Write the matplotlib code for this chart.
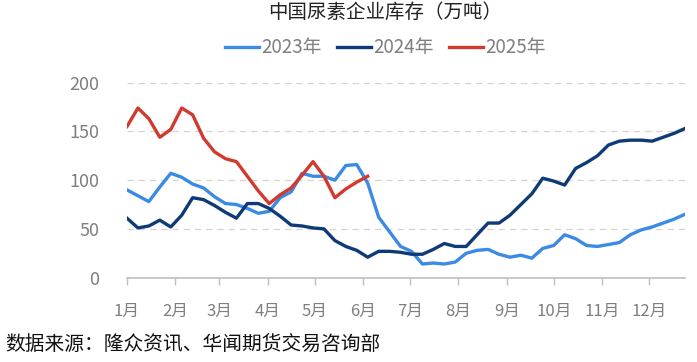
import numpy as np
from matplotlib import pyplot as plt

plt.rcParams['font.family'] = ['Noto Sans CJK SC', 'DejaVu Sans']

# 周度库存（万吨），每年第 1 周起
y2023 = [90, 84, 78, 93, 107, 103, 96, 92, 83, 76, 75, 71, 66, 68, 82, 88,
         107, 104, 104, 100, 115, 116, 97, 62, 47, 32, 27, 14, 15, 14, 16, 25,
         28, 29, 24, 21, 23, 20, 30, 33, 44, 40, 33, 32, 34, 36, 44, 49,
         52, 56, 60, 65]
y2024 = [61, 51, 53, 59, 52, 64, 82, 80, 74, 67, 61, 76, 76, 71, 63, 54,
         53, 51, 50, 38, 32, 28, 21, 27, 27, 26, 24, 24, 29, 35, 32, 32,
         44, 56, 56, 64, 75, 86, 102, 99, 95, 112, 118, 125, 136, 140, 141, 141,
         140, 144, 148, 153]
y2025 = [155, 174, 163, 144, 152, 174, 167, 143, 129, 122, 119, 104, 89, 76, 85, 92,
         105, 119, 104, 82, 91, 98, 104]

months = ['1月', '2月', '3月', '4月', '5月', '6月', '7月', '8月', '9月', '10月', '11月', '12月']
month_start_day = [0, 31, 59, 90, 120, 151, 181, 212, 243, 273, 304, 334]

fig = plt.figure(figsize=(6.97, 3.62), dpi=100)
ax = fig.add_axes([0.1822, 0.233, 0.8006, 0.5387])

lw = 2.4
l1, = ax.plot(np.arange(len(y2023)), y2023, color='#3b8ae6', lw=lw, label='2023年')
l2, = ax.plot(np.arange(len(y2024)), y2024, color='#0e3a78', lw=lw, label='2024年')
l3, = ax.plot(np.arange(len(y2025)), y2025, color='#d23a2f', lw=lw, label='2025年')

ax.set_xlim(0, 51)
ax.set_ylim(0, 200)
ax.set_yticks([0, 50, 100, 150, 200])
ax.yaxis.grid(True, color='#d8d2cc', linestyle=(0, (5, 4)), lw=0.9)
ax.set_axisbelow(True)

ticks = [d / 7 for d in month_start_day]
ax.set_xticks(ticks)
ax.set_xticklabels(months)

for s in ['top', 'right', 'left']:
    ax.spines[s].set_visible(False)
ax.spines['bottom'].set_color('#bfbfbf')
ax.spines['bottom'].set_linewidth(1.2)
ax.tick_params(axis='x', colors='#bfbfbf', length=5, width=1, direction='out', pad=13,
               labelcolor='#7f7f7f', labelsize=12)
ax.tick_params(axis='y', length=0, pad=20, labelcolor='#7f7f7f', labelsize=13)

fig.text(0.553, 0.965, '中国尿素企业库存（万吨）', ha='center', va='center',
         fontsize=14, color='#222222')
fig.legend(handles=[l1, l2, l3], loc='center', bbox_to_anchor=(0.553, 0.868), ncol=3,
           frameon=False, fontsize=13.5, labelcolor='#7f7f7f', handlelength=1.8,
           handletextpad=0.15, columnspacing=0.8)
fig.text(0.007, 0.045, '数据来源：隆众资讯、华闻期货交易咨询部', ha='left', va='center',
         fontsize=14.2, color='#111111')

fig.savefig('out.png', dpi=100)
